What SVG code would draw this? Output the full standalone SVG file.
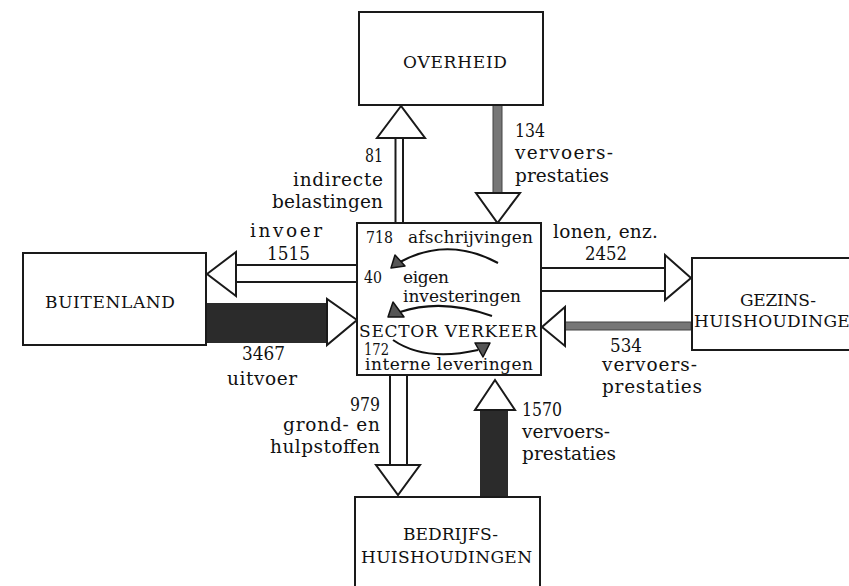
<svg xmlns="http://www.w3.org/2000/svg" width="849" height="586" viewBox="0 0 849 586">
<style>
.t{font-family:"DejaVu Serif","Liberation Serif",serif;font-size:18.5px;fill:#111}
.b{font-size:17px}
.c{font-size:17px}
.box{fill:#fff;stroke:#1a1a1a;stroke-width:2}
.hol{fill:#fff;stroke:#1a1a1a;stroke-width:2;stroke-linejoin:miter}
.ln{stroke:#1a1a1a;stroke-width:2;fill:none}
.dark{fill:#2b2b2b}
.gray{fill:#777;stroke:#444;stroke-width:1}
.cur{fill:none;stroke:#111;stroke-width:2}
.head{fill:#555;stroke:#111;stroke-width:1.5;stroke-linejoin:round}
</style>
<rect width="849" height="586" fill="#fff"/>
<g id="connectors">
  <line class="ln" x1="395.5" y1="138" x2="395.5" y2="223"/>
  <line class="ln" x1="403" y1="138" x2="403" y2="223"/>
  <polygon class="hol" points="401,106 377,138 425,138"/>
  <rect class="gray" x="493" y="105" width="9" height="88"/>
  <polygon class="hol" points="476,193 520,193 497.5,223"/>
  <line class="ln" x1="236" y1="265" x2="357" y2="265"/>
  <line class="ln" x1="236" y1="282" x2="357" y2="282"/>
  <polygon class="hol" points="207,274 236,252 236,296"/>
  <rect class="dark" x="206" y="303" width="121" height="40"/>
  <polygon class="hol" points="327,299 327,345 357,320"/>
  <line class="ln" x1="541" y1="268" x2="665" y2="268"/>
  <line class="ln" x1="541" y1="291" x2="665" y2="291"/>
  <polygon class="hol" points="665,255 665,300 691,278"/>
  <rect class="gray" x="565" y="322" width="126" height="8"/>
  <polygon class="hol" points="565,307 565,346 542,327"/>
  <line class="ln" x1="390" y1="375" x2="390" y2="465"/>
  <line class="ln" x1="407" y1="375" x2="407" y2="465"/>
  <polygon class="hol" points="376,465 420,465 398,495"/>
  <rect class="dark" x="480" y="410" width="28" height="87"/>
  <polygon class="hol" points="495,380 475,410 515,410"/>
</g>
<g id="overheid">
  <rect class="box" x="359" y="12" width="184" height="93"/>
  <text class="t b" x="403" y="68" textLength="104" lengthAdjust="spacing">OVERHEID</text>
</g>
<g id="buitenland">
  <rect class="box" x="23" y="253" width="183" height="92"/>
  <text class="t b" x="45" y="308" textLength="130" lengthAdjust="spacing">BUITENLAND</text>
</g>
<g id="gezinshuishoudingen">
  <rect class="box" x="692" y="258" width="180" height="92"/>
  <text class="t b" x="740" y="306" textLength="76" lengthAdjust="spacing">GEZINS-</text>
  <text class="t b" x="694" y="327" textLength="171" lengthAdjust="spacing">HUISHOUDINGEN</text>
</g>
<g id="bedrijfshuishoudingen">
  <rect class="box" x="355" y="497" width="185" height="110"/>
  <text class="t b" x="403" y="540" textLength="95" lengthAdjust="spacingAndGlyphs">BEDRIJFS-</text>
  <text class="t b" x="361" y="563" textLength="171" lengthAdjust="spacing">HUISHOUDINGEN</text>
</g>
<g id="sector-verkeer">
  <rect class="box" x="357" y="223" width="184" height="152"/>
  <text class="t c" x="366" y="243" textLength="27" lengthAdjust="spacingAndGlyphs">718</text>
  <text class="t c" x="408" y="243" textLength="125" lengthAdjust="spacing">afschrijvingen</text>
  <path class="cur" d="M498,263 Q448,236 400,262"/>
  <polygon class="head" points="395,255 391,268 405,266"/>
  <text class="t c" x="364" y="283" textLength="18" lengthAdjust="spacingAndGlyphs">40</text>
  <text class="t c" x="403" y="283" textLength="46" lengthAdjust="spacing">eigen</text>
  <text class="t c" x="403" y="302" textLength="118" lengthAdjust="spacing">investeringen</text>
  <path class="cur" d="M492,316 Q442,298 400,312"/>
  <polygon class="head" points="393,302 388,317 404,317"/>
  <text class="t c" x="359" y="337" textLength="178" lengthAdjust="spacing">SECTOR VERKEER</text>
  <path class="cur" d="M393,340 Q425,362 478,350"/>
  <polygon class="head" points="475,343 490,343 483,357"/>
  <text class="t c" x="364" y="355" textLength="25" lengthAdjust="spacingAndGlyphs">172</text>
  <text class="t c" x="365" y="370" textLength="168" lengthAdjust="spacing">interne leveringen</text>
</g>
<g id="labels">
  <text class="t" x="365" y="162" textLength="18" lengthAdjust="spacingAndGlyphs">81</text>
  <text class="t" x="293" y="186" textLength="90" lengthAdjust="spacing">indirecte</text>
  <text class="t" x="272" y="208" textLength="111" lengthAdjust="spacing">belastingen</text>
  <text class="t" x="250" y="237" textLength="72" lengthAdjust="spacing">invoer</text>
  <text class="t" x="267" y="260" textLength="43" lengthAdjust="spacingAndGlyphs">1515</text>
  <text class="t" x="515" y="137" textLength="30" lengthAdjust="spacingAndGlyphs">134</text>
  <text class="t" x="515" y="159" textLength="98" lengthAdjust="spacing">vervoers-</text>
  <text class="t" x="515" y="182" textLength="94" lengthAdjust="spacing">prestaties</text>
  <text class="t" x="553" y="238" textLength="105" lengthAdjust="spacing">lonen, enz.</text>
  <text class="t" x="585" y="260" textLength="42" lengthAdjust="spacingAndGlyphs">2452</text>
  <text class="t" x="242" y="360" textLength="43" lengthAdjust="spacingAndGlyphs">3467</text>
  <text class="t" x="227" y="385" textLength="70" lengthAdjust="spacing">uitvoer</text>
  <text class="t" x="610" y="352" textLength="32" lengthAdjust="spacingAndGlyphs">534</text>
  <text class="t" x="602" y="371" textLength="95" lengthAdjust="spacing">vervoers-</text>
  <text class="t" x="602" y="393" textLength="100" lengthAdjust="spacing">prestaties</text>
  <text class="t" x="350" y="411" textLength="30" lengthAdjust="spacingAndGlyphs">979</text>
  <text class="t" x="283" y="431" textLength="97" lengthAdjust="spacing">grond- en</text>
  <text class="t" x="270" y="453" textLength="110" lengthAdjust="spacing">hulpstoffen</text>
  <text class="t" x="522" y="416" textLength="40" lengthAdjust="spacingAndGlyphs">1570</text>
  <text class="t" x="522" y="438" textLength="88" lengthAdjust="spacing">vervoers-</text>
  <text class="t" x="522" y="460" textLength="94" lengthAdjust="spacing">prestaties</text>
</g>
</svg>
